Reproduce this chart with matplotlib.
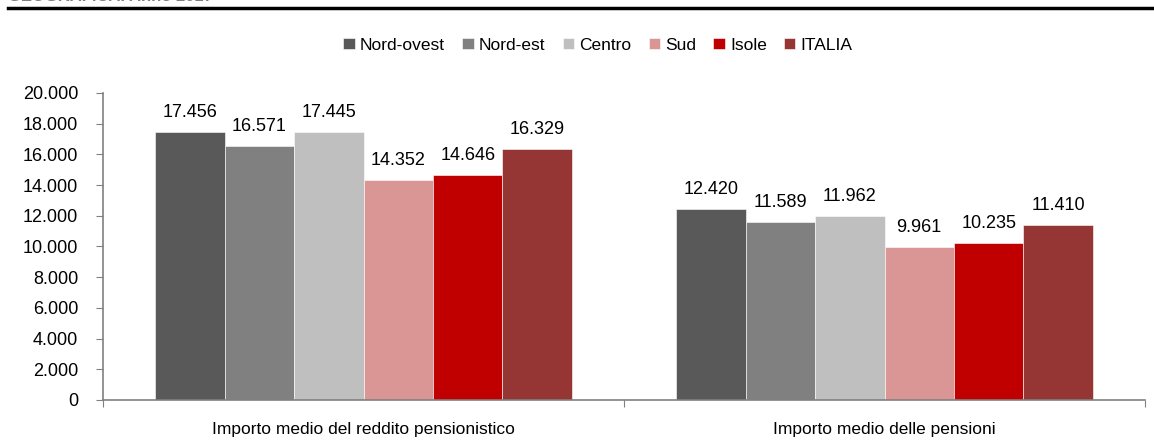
import matplotlib
matplotlib.use("Agg")
import matplotlib.pyplot as plt
from matplotlib import font_manager as fm
import numpy as np

names = {f.name for f in fm.fontManager.ttflist}
fam = 'Liberation Sans Narrow' if 'Liberation Sans Narrow' in names else 'Liberation Sans'
plt.rcParams['font.family'] = [fam, 'DejaVu Sans']

categories = ["Importo medio del reddito pensionistico", "Importo medio delle pensioni"]
regions = ["Nord-ovest", "Nord-est", "Centro", "Sud", "Isole", "ITALIA"]
values = {
    "Nord-ovest": [17456, 12420],
    "Nord-est": [16571, 11589],
    "Centro": [17445, 11962],
    "Sud": [14352, 9961],
    "Isole": [14646, 10235],
    "ITALIA": [16329, 11410],
}
colors = ["#595959", "#808080", "#BFBFBF", "#DA9694", "#C00000", "#963634"]
yticks = list(range(0, 20001, 2000))

W, H = 1154, 447
fig = plt.figure(figsize=(W/100, H/100), dpi=100)
ax = fig.add_axes([103/W, 1-400/H, (1145-103)/W, (400-93)/H])

x = np.arange(len(categories))
n = len(regions)
bw = 0.8 / n
handles = []
for i, (r, c) in enumerate(zip(regions, colors)):
    pos = x - 0.4 + bw*(i+0.5)
    b = ax.bar(pos, values[r], width=bw, color=c, edgecolor='white', linewidth=0.4, label=r)
    handles.append(b)
    for p, v in zip(pos, values[r]):
        s = f"{v:,}".replace(",", ".")
        ax.annotate(s, (p, v), xytext=(0, 8), textcoords='offset points',
                    ha='center', va='bottom', fontsize=13, color='#000000')

ax.set_xlim(-0.5, len(categories)-0.5)
ax.set_ylim(0, 20000)
ax.set_yticks(yticks)
ax.set_yticklabels([f"{t:,}".replace(",", ".") for t in yticks], fontsize=13)
ax.set_xticks(np.arange(-0.5, len(categories), 1.0))
ax.set_xticklabels([])
ax.set_xticks(x, minor=True)
ax.set_xticklabels(categories, minor=True, fontsize=12.5)
ax.tick_params(axis='x', which='minor', length=0, pad=16)
ax.tick_params(axis='x', which='major', length=5, direction='out', color='#808080')
ax.tick_params(axis='y', length=5, direction='out', color='#808080', pad=13)
for s in ['top', 'right']:
    ax.spines[s].set_visible(False)
for s in ['left', 'bottom']:
    ax.spines[s].set_color('#808080')
    ax.spines[s].set_linewidth(1.2)

fig.legend(handles=handles, labels=regions, loc='center', bbox_to_anchor=(598/W, 1-45/H),
           ncol=6, frameon=False, fontsize=12.5, handlelength=0.65, handleheight=0.65,
           handletextpad=0.3, columnspacing=1.0)

# top rule and clipped header text
fig.add_artist(plt.Line2D([8/W, 1], [1-8/H, 1-8/H], color='black', linewidth=2.5, transform=fig.transFigure))
fig.text(8/W, 1+3/H, "GEOGRAFICA. Anno 2017", fontsize=12, fontweight='bold', color='#7f7f7f',
         va='center', ha='left')

fig.savefig("out.png", dpi=100)
